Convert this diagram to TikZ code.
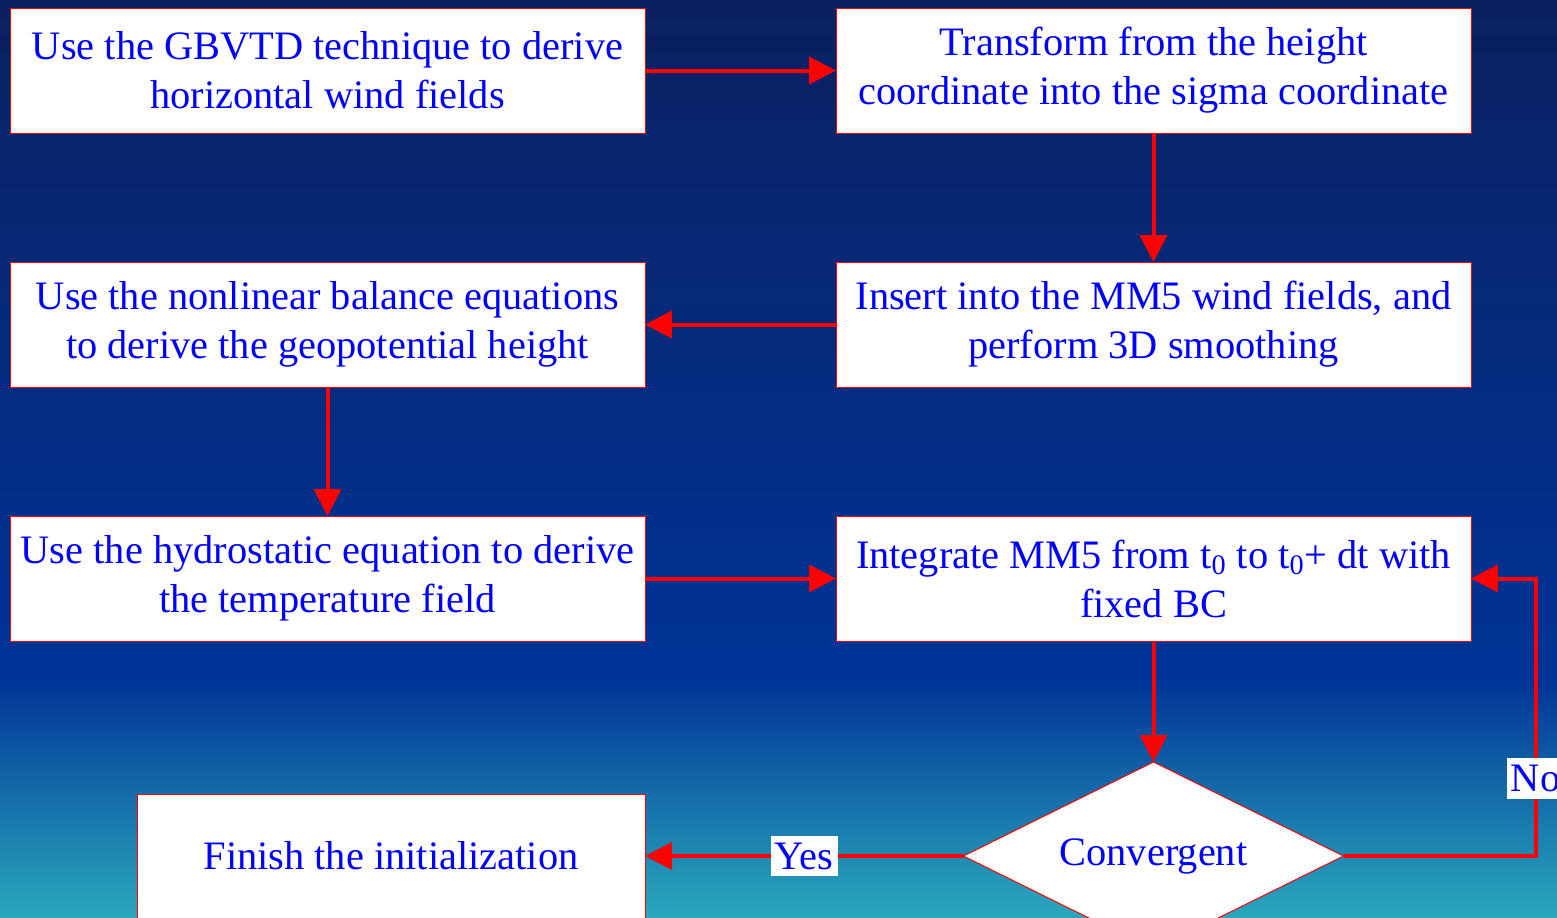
\documentclass[tikz,border=0pt]{standalone}
\usepackage{fontspec}
\setmainfont{Liberation Serif}
\usetikzlibrary{
  shapes.geometric,
  arrows.meta,
  positioning
}
\definecolor{textblue}{RGB}{0, 0, 255}
\definecolor{linered}{RGB}{255, 0, 0}
\definecolor{bgtop}{RGB}{10, 32, 96}
\definecolor{bgmid}{RGB}{0, 52, 152}
\definecolor{bgbottom}{RGB}{42, 168, 188}
\newcommand{\stepfont}{\fontsize{20.2}{24.5}\selectfont}
\tikzset{
stepbox/.style={
  draw=linered,
  fill=white,
  line width=0.5pt,
  minimum width=317.5pt,
  minimum height=62.5pt,
  inner sep=0pt,
  outer sep=0pt,
  align=center,
  text=textblue,
  font=\stepfont
},
finishbox/.style={
  stepbox,
  minimum width=254pt,
  minimum height=62pt
},
decisionbox/.style={
  diamond,
  draw=linered,
  fill=white,
  line width=0.5pt,
  aspect=2,
  minimum width=190pt,
  minimum height=94pt,
  inner sep=0pt,
  outer sep=0pt,
  text=textblue,
  font=\stepfont
},
choicelabel/.style={
  fill=white,
  inner xsep=2pt,
  inner ysep=3.5pt,
  text=textblue,
  font=\stepfont
},
flowarrow/.style={
  -{Triangle[length=13.5pt,width=13.5pt]},
  line width=2pt,
  draw=linered
}
}

\begin{document}
\begin{tikzpicture}[x=0.5pt, y=-0.5pt, node distance=64.5pt and 95.5pt]
  \useasboundingbox (0,0) rectangle (1557,917);

  % background
  \shade[top color=bgtop, bottom color=bgmid] (0,0) rectangle (1557,680);
  \shade[top color=bgmid, bottom color=bgbottom] (0,679) rectangle (1557,917);

  % Steps
  \node[stepbox] (gbvtd) at (327.5,70.5) {Use the GBVTD technique to derive\\horizontal wind fields};
  \node[stepbox, right=of gbvtd] (sigma) {Transform from the height\\coordinate into the sigma coordinate};
  \node[stepbox, below=of sigma] (insert) {Insert into the MM5 wind fields, and\\perform 3D smoothing};
  \node[stepbox, below=of gbvtd] (balance) {Use the nonlinear balance equations\\to derive the geopotential height};
  \node[stepbox, below=of balance] (hydro) {Use the hydrostatic equation to derive\\the temperature field};
  \node[stepbox, below=of insert] (integrate) {Integrate MM5 from t\textsubscript{0} to t\textsubscript{0}+ dt with\\fixed BC};

  % Decision and end
  \node[decisionbox, below=60.5pt of integrate] (converge) {Convergent};
  \node[finishbox, anchor=east] (finish) at (converge.west -| hydro.east) {Finish the initialization};

  % Arrows
  \draw[flowarrow] (gbvtd) -- (sigma);
  \draw[flowarrow] (sigma) -- (insert);
  \draw[flowarrow] (insert) -- (balance);
  \draw[flowarrow] (balance) -- (hydro);
  \draw[flowarrow] (hydro) -- (integrate);
  \draw[flowarrow] (integrate) -- (converge);
  \draw[flowarrow] (converge) -- node[choicelabel] {Yes} (finish);
  \draw[flowarrow] (converge.east) -- ++(192,0) |- node[choicelabel, pos=0.14] {No} (integrate.east);

\end{tikzpicture}
\end{document}
